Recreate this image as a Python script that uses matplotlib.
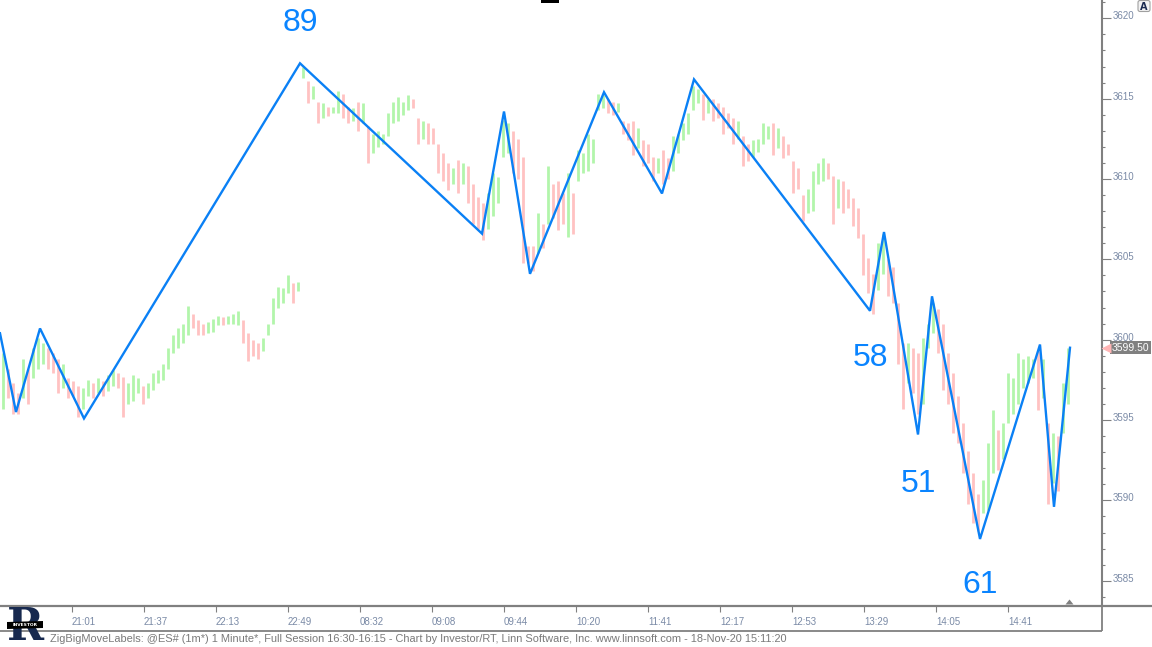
import numpy as np
import matplotlib
matplotlib.use('Agg')
import matplotlib.pyplot as plt
import matplotlib.transforms as mtransforms
from matplotlib.patches import Polygon, Rectangle, FancyBboxPatch
from matplotlib.ticker import MultipleLocator, FixedLocator

# ---------------- data ----------------
# zigzag swing points (bar index, price)
zig_bar = [0, 8, 20, 42, 150, 241, 252, 265, 302, 331, 347, 435, 442, 459, 466, 490, 520, 527, 535]
zig_price = [3600.4, 3595.5, 3600.7, 3595.1, 3617.2, 3606.6, 3614.2, 3604.1, 3615.4, 3609.1,
             3616.2, 3601.8, 3606.7, 3594.1, 3602.7, 3587.6, 3599.7, 3589.6, 3599.5]

move_labels = ['89', '58', '51', '61']
label_point = [4, 11, 13, 15]

time_ticks = [36, 72, 108, 144, 180, 216, 252, 288, 324, 360, 396, 432, 468, 504]
time_labels = ['21:01', '21:37', '22:13', '22:49', '08:32', '09:08', '09:44', '10:20',
               '11:41', '12:17', '12:53', '13:29', '14:05', '14:41']

price_ticks = [3585, 3590, 3595, 3600, 3605, 3610, 3615, 3620]
last_price = 3599.50

bar_high = [
    3599.2, 3598.2, 3597.3, 3596.7, 3598.8, 3598.2, 3599.5, 3600.1, 3599.8, 3599.5,
    3599.2, 3598.8, 3598.5, 3597.6, 3597.4, 3597.1, 3597.0, 3597.5, 3597.3, 3597.6,
    3597.4, 3597.8, 3598.1, 3597.9, 3597.7, 3597.3, 3597.8, 3597.6, 3597.1, 3597.3,
    3597.9, 3598.1, 3598.5, 3599.5, 3600.3, 3600.7, 3601.0, 3602.1, 3601.6, 3601.2,
    3601.0, 3601.1, 3601.3, 3601.5, 3601.4, 3601.5, 3601.6, 3601.8, 3601.2, 3600.4,
    3600.0, 3599.8, 3600.1, 3601.0, 3602.6, 3603.3, 3603.2, 3604.0, 3603.5, 3603.6,
    3617.0, 3616.1, 3615.8, 3614.8, 3614.7, 3614.5, 3614.5, 3615.5, 3615.3, 3614.5,
    3614.4, 3614.8, 3614.7, 3613.3, 3612.8, 3613.0, 3612.8, 3614.1, 3614.8, 3615.1,
    3614.8, 3615.2, 3615.0, 3613.8, 3613.6, 3613.5, 3613.2, 3612.2, 3611.6, 3611.0,
    3610.7, 3611.2, 3611.0, 3610.8, 3609.7, 3608.9, 3608.5, 3609.1, 3610.4, 3610.1,
    3613.7, 3613.5, 3613.0, 3612.5, 3611.4, 3605.8, 3605.8, 3607.9, 3607.2, 3610.8,
    3609.7, 3609.9, 3609.1, 3610.4, 3609.1, 3611.8, 3611.6, 3612.8, 3612.5, 3615.3,
    3615.2, 3615.0, 3614.8, 3614.7, 3613.6, 3613.5, 3613.6, 3613.2, 3612.4, 3612.2,
    3611.4, 3611.3, 3611.8, 3611.3, 3612.7, 3612.8, 3613.5, 3614.1, 3615.8, 3615.6,
    3615.3, 3615.0, 3615.0, 3614.7, 3614.5, 3614.1, 3613.8, 3613.6, 3612.7, 3612.2,
    3612.4, 3612.5, 3613.5, 3613.3, 3613.5, 3613.2, 3612.7, 3612.2, 3611.1, 3610.7,
    3609.0, 3609.4, 3610.5, 3611.0, 3611.3, 3611.0, 3610.2, 3610.0, 3609.9, 3609.4,
    3608.8, 3608.2, 3606.6, 3605.1, 3604.1, 3606.0, 3606.6, 3605.0, 3604.5, 3602.3,
    3599.8, 3599.8, 3599.5, 3599.2, 3600.1, 3601.0, 3602.3, 3601.9, 3601.0, 3599.2,
    3597.9, 3596.5, 3594.8, 3593.1, 3591.7, 3590.4, 3591.3, 3593.6, 3595.6, 3594.4,
    3594.8, 3597.9, 3597.6, 3599.2, 3598.8, 3599.0, 3598.8, 3599.3, 3598.8, 3594.8,
    3594.2, 3594.0, 3597.3, 3599.5,
]
bar_low = [
    3595.7, 3596.4, 3595.4, 3595.4, 3596.4, 3596.0, 3597.6, 3598.2, 3598.5, 3598.2,
    3597.9, 3596.7, 3597.0, 3596.4, 3596.5, 3595.2, 3595.7, 3596.5, 3596.4, 3596.7,
    3596.5, 3596.8, 3597.1, 3597.0, 3595.2, 3596.0, 3596.2, 3596.7, 3596.0, 3596.4,
    3596.9, 3597.3, 3597.5, 3598.2, 3599.2, 3599.5, 3599.8, 3600.3, 3600.7, 3600.3,
    3600.3, 3600.4, 3600.5, 3600.9, 3600.9, 3601.0, 3601.0, 3600.9, 3599.8, 3598.7,
    3599.0, 3598.8, 3599.3, 3600.3, 3601.0, 3602.0, 3602.3, 3602.9, 3602.3, 3603.0,
    3616.3, 3614.7, 3615.0, 3613.5, 3613.8, 3613.9, 3614.1, 3614.1, 3613.8, 3613.5,
    3613.6, 3613.0, 3613.5, 3611.0, 3611.6, 3612.0, 3612.2, 3612.7, 3613.5, 3613.6,
    3614.0, 3614.3, 3614.4, 3612.2, 3612.5, 3612.2, 3612.2, 3610.4, 3609.9, 3609.3,
    3609.7, 3609.1, 3609.7, 3608.5, 3607.2, 3606.9, 3606.2, 3606.9, 3607.7, 3608.5,
    3611.4, 3611.6, 3610.4, 3610.0, 3604.8, 3604.8, 3604.3, 3605.4, 3605.7, 3607.2,
    3607.6, 3606.8, 3607.2, 3606.4, 3606.6, 3609.9, 3610.4, 3610.5, 3611.0, 3614.3,
    3614.4, 3614.1, 3614.0, 3614.2, 3612.8, 3612.4, 3611.5, 3611.9, 3610.8, 3611.0,
    3609.9, 3610.4, 3609.7, 3610.0, 3610.5, 3611.6, 3612.4, 3612.8, 3614.3, 3614.7,
    3613.7, 3614.1, 3613.6, 3613.8, 3612.8, 3613.2, 3612.2, 3612.5, 3610.8, 3611.1,
    3611.4, 3611.7, 3612.2, 3612.5, 3611.5, 3611.9, 3611.3, 3611.5, 3609.1, 3609.4,
    3607.4, 3607.9, 3608.0, 3609.7, 3609.9, 3610.0, 3607.2, 3608.2, 3607.9, 3608.2,
    3607.1, 3606.3, 3604.0, 3602.9, 3601.6, 3603.1, 3604.1, 3602.7, 3602.3, 3598.5,
    3595.7, 3597.3, 3596.7, 3595.4, 3596.0, 3599.5, 3600.4, 3599.2, 3596.9, 3596.0,
    3594.2, 3593.6, 3591.7, 3589.8, 3588.6, 3588.1, 3589.2, 3589.4, 3591.7, 3591.9,
    3592.6, 3594.8, 3595.4, 3596.0, 3597.0, 3597.3, 3597.6, 3595.6, 3596.4, 3589.8,
    3591.1, 3590.6, 3594.2, 3596.0,
]

# ---------------- figure ----------------
W, H = 1152, 647
fig = plt.figure(figsize=(W / 100, H / 100), dpi=100)
fig.patch.set_facecolor('white')

AX_R = 1101.5
AX_B = 605.5
ax = fig.add_axes([0, (H - AX_B) / H, AX_R / W, AX_B / H])
ax.set_facecolor('white')

ymax = 3620 + 18.3 / 16.07
ymin = 3620 - (AX_B - 18.3) / 16.07
ax.set_ylim(ymin, ymax)
ax.set_xlim(0, AX_R / 2)

# bars
bar_x = np.arange(len(bar_high)) * 2.5 + 1.25
hi = np.array(bar_high)
lo = np.array(bar_low)
mid = (hi + lo) / 2
up = np.concatenate([[True], mid[1:] >= mid[:-1]])
cols = np.where(up, '#b2f5ab', '#ffc2c2')
ax.vlines(bar_x, lo, hi, colors=cols, lw=2.0, zorder=1)

# zigzag
ax.plot(zig_bar, zig_price, color='#0a80f5', lw=1.7, zorder=3, solid_joinstyle='miter')

# label offsets in pixels (positive = above the swing point)
label_offset_px = [40, -47, -49, -46]
for lbl, pi, dy in zip(move_labels, label_point, label_offset_px):
    ax.annotate(lbl, xy=(zig_bar[pi], zig_price[pi]), xytext=(0, dy),
                textcoords='offset pixels', ha='center', va='center',
                fontsize=23, color='#0a84ff', family='Liberation Sans', zorder=4)

# spines
for s in ['top', 'left', 'bottom']:
    ax.spines[s].set_visible(False)
ax.spines['right'].set_color('#808080')
ax.spines['right'].set_linewidth(1.5)

# y axis on right
ax.yaxis.tick_right()
ax.yaxis.set_major_locator(FixedLocator(price_ticks))
ax.yaxis.set_minor_locator(MultipleLocator(1))
ax.tick_params(axis='y', which='major', length=6.5, width=0.8, color='#808080',
               labelsize=7, labelcolor='#7a8aa6', pad=1.5, direction='out')
ax.tick_params(axis='y', which='minor', length=2.5, width=0.8, color='#808080', direction='out')
ax.set_yticklabels([str(p) for p in price_ticks], family='Liberation Sans')
off = mtransforms.ScaledTranslation(0, 3 / 100, fig.dpi_scale_trans)
for t in ax.get_yticklabels():
    t.set_transform(t.get_transform() + off)

# x axis
ax.set_xticks(time_ticks)
ax.set_xticklabels(time_labels, ha='left', family='Liberation Sans')
ax.tick_params(axis='x', length=4.5, width=0.8, color='#808080', labelsize=7,
               labelcolor='#7a8aa6', pad=4.0, direction='out')

# last price tag
blend = mtransforms.blended_transform_factory(ax.transAxes, ax.transData)
ax.annotate(f'{last_price:.2f}', xy=(1, last_price), xycoords=blend,
            xytext=(10, 0), textcoords='offset pixels', ha='left', va='center',
            fontsize=7.5, color='white', family='Liberation Sans',
            bbox=dict(boxstyle='square,pad=0.15', fc='#808080', ec='none'),
            annotation_clip=False)
tri_off = mtransforms.ScaledTranslation(4 / 100, 0, fig.dpi_scale_trans)
ax.plot([1.0], [last_price], marker='<', ms=7, color='#ffb5b5', mec='none',
        transform=blend + tri_off, clip_on=False, zorder=5)

# ---------------- decorations (pixel coordinates) ----------------
deco = fig.add_axes([0, 0, 1, 1], zorder=5)
deco.patch.set_alpha(0)
deco.set_xlim(0, W)
deco.set_ylim(H, 0)
deco.axis('off')
deco.plot([0, W], [AX_B, AX_B], color='#808080', lw=1.6, solid_capstyle='butt')
deco.plot([0, AX_R], [630.5, 630.5], color='#808080', lw=1.3, solid_capstyle='butt')
deco.plot([AX_R, AX_R], [AX_B, 630.5], color='#808080', lw=1.3, solid_capstyle='butt')
deco.add_patch(Polygon([(1065.5, 604.5), (1073.5, 604.5), (1069.5, 599.5)],
                       closed=True, fc='#808080', ec='none'))
deco.add_patch(Rectangle((541, 0), 18, 3, fc='black', ec='none'))
deco.add_patch(FancyBboxPatch((1138, 0.5), 12, 11, boxstyle='round,pad=0,rounding_size=2',
                              fc='#f2f2f2', ec='#a0a0a0', lw=0.8))
deco.text(1144, 6.5, 'A', ha='center', va='center', fontsize=7, fontweight='bold',
          color='#1a2a50', family='DejaVu Sans')

# footer
deco.text(50, 638.5, 'ZigBigMoveLabels: @ES# (1m*) 1 Minute*, Full Session 16:30-16:15 - '
          'Chart by Investor/RT, Linn Software, Inc. www.linnsoft.com - 18-Nov-20 15:11:20',
          ha='left', va='center', fontsize=7.9, color='#7a7a7a', family='Liberation Sans')

# logo
deco.text(25, 627, 'R', ha='center', va='center', fontsize=32, fontweight='bold',
          color='#17294f', family='DejaVu Serif')
deco.add_patch(Polygon([(7, 622), (43, 621), (43, 628), (7, 629)], closed=True,
                       fc='black', ec='none', zorder=3))
deco.text(25, 625, 'INVESTOR', ha='center', va='center', fontsize=3.2, color='white',
          fontweight='bold', family='DejaVu Sans', zorder=4)

fig.savefig('out.png', dpi=100, facecolor='white')
